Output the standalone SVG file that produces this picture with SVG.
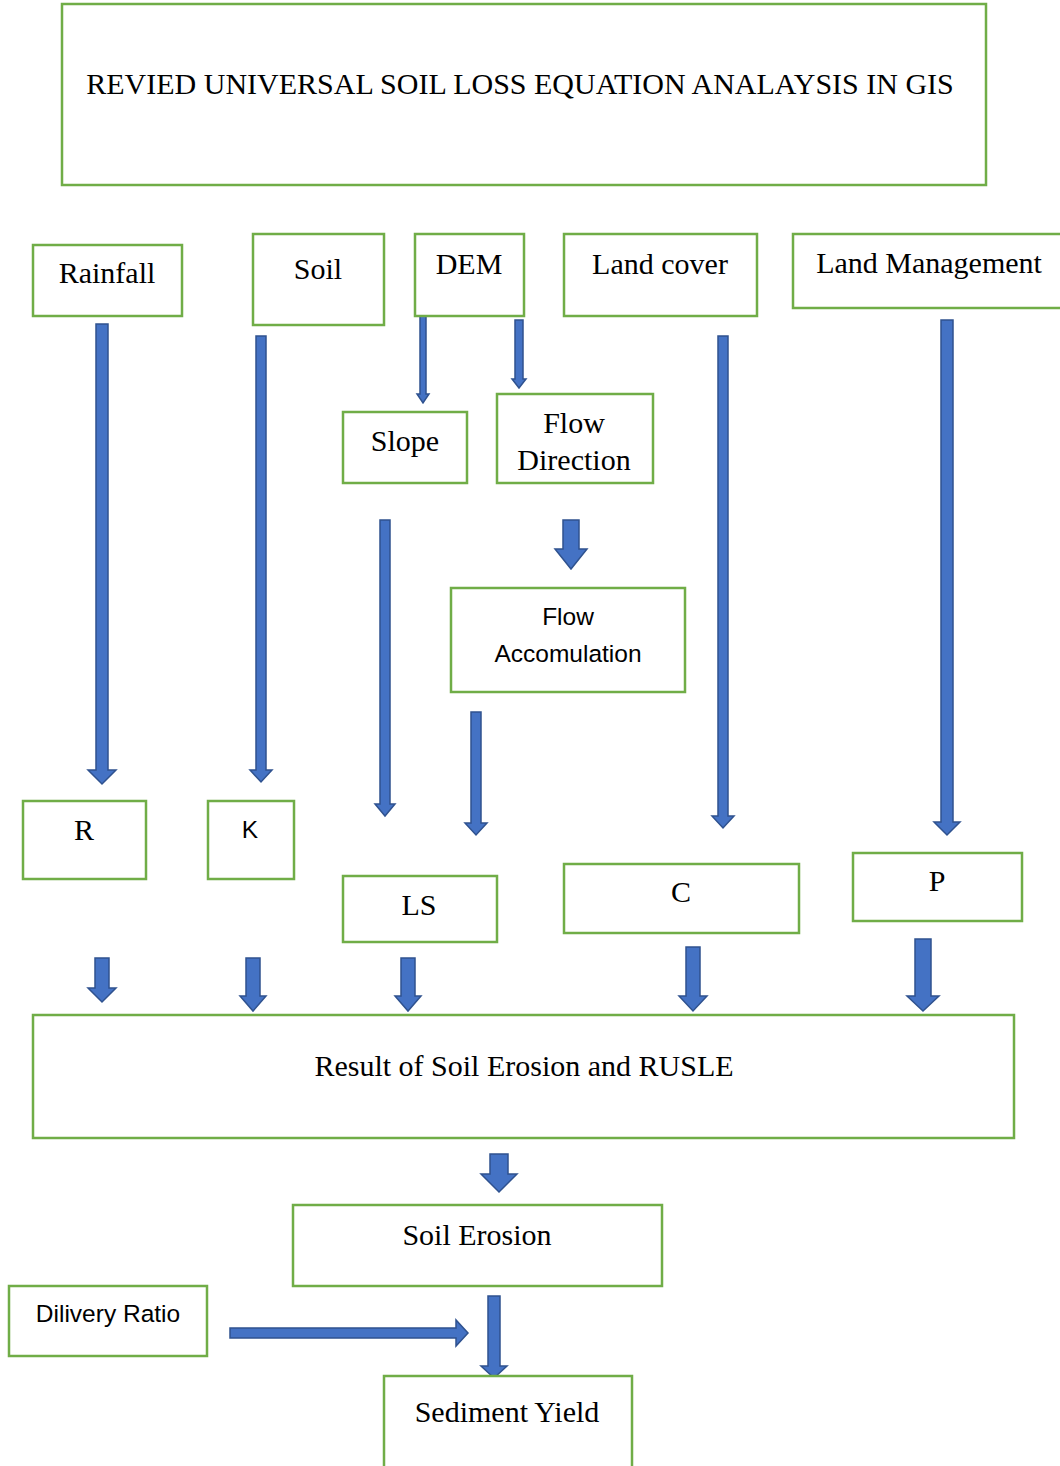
<svg xmlns="http://www.w3.org/2000/svg" width="1060" height="1466" viewBox="0 0 1060 1466">
<style>
.box{fill:#fff;stroke:#70AD47;stroke-width:2.5}
.t{font-family:"Liberation Serif","Times New Roman",serif;font-size:30px;fill:#000;text-anchor:middle}
.s{font-family:"Liberation Sans","Open Sans",Arial,sans-serif;font-size:24.5px;fill:#000;text-anchor:middle}
.a{fill:#4472C4;stroke:#2F528F;stroke-width:1.5;stroke-linejoin:miter}
</style>
<rect width="1060" height="1466" fill="#fff"/>
<g id="connectors">
<path class="a" d="M96,324 H108 V770 H116 L102,784 L88,770 H96 Z"/>
<path class="a" d="M256,336 H266 V770 H272 L261,782 L250,770 H256 Z"/>
<path class="a" d="M420,316 H426 V394 H429 L423,403 L417,394 H420 Z"/>
<path class="a" d="M515,320 H523 V379 H526 L519,388 L512,379 H515 Z"/>
<path class="a" d="M380,520 H390 V804 H395 L385,816 L375,804 H380 Z"/>
<path class="a" d="M563,520 H579 V549 H587 L571,569 L555,549 H563 Z"/>
<path class="a" d="M471,712 H481 V823 H487 L476,835 L465,823 H471 Z"/>
<path class="a" d="M718,336 H728 V816 H734 L723,828 L712,816 H718 Z"/>
<path class="a" d="M941,320 H953 V822 H960 L947,835 L934,822 H941 Z"/>
<path class="a" d="M95,958 H109 V988 H116 L102,1002 L88,988 H95 Z"/>
<path class="a" d="M246,958 H260 V996 H266 L253,1011 L240,996 H246 Z"/>
<path class="a" d="M401,958 H415 V996 H421 L408,1011 L395,996 H401 Z"/>
<path class="a" d="M686,947 H700 V996 H707 L693,1011 L679,996 H686 Z"/>
<path class="a" d="M915,939 H931 V996 H939 L923,1011 L907,996 H915 Z"/>
<path class="a" d="M490,1154 H508 V1174 H517 L499,1192 L481,1174 H490 Z"/>
<path class="a" d="M488,1296 H500 V1366 H507 L494,1378 L481,1366 H488 Z"/>
<path class="a" d="M230,1328 H456 V1320 L468,1333 L456,1346 V1338 H230 Z"/>
</g>
<g id="title"><rect class="box" x="62" y="4" width="924" height="181"/><text class="t" x="520" y="94">REVIED UNIVERSAL SOIL LOSS EQUATION ANALAYSIS IN GIS</text></g>
<g id="rainfall"><rect class="box" x="33" y="245" width="149" height="71"/><text class="t" x="107" y="283">Rainfall</text></g>
<g id="soil"><rect class="box" x="253" y="234" width="131" height="91"/><text class="t" x="318" y="279">Soil</text></g>
<g id="dem"><rect class="box" x="415" y="234" width="109" height="82"/><text class="t" x="469" y="274">DEM</text></g>
<g id="landcover"><rect class="box" x="564" y="234" width="193" height="82"/><text class="t" x="660" y="274">Land cover</text></g>
<g id="landmanagement"><rect class="box" x="793" y="234" width="280" height="74"/><text class="t" x="929" y="273">Land Management</text></g>
<g id="slope"><rect class="box" x="343" y="412" width="124" height="71"/><text class="t" x="405" y="451">Slope</text></g>
<g id="flowdirection"><rect class="box" x="497" y="394" width="156" height="89"/><text class="t" x="574" y="433">Flow</text><text class="t" x="574" y="470">Direction</text></g>
<g id="flowaccumulation"><rect class="box" x="451" y="588" width="234" height="104"/><text class="s" x="568" y="625">Flow</text><text class="s" x="568" y="662">Accomulation</text></g>
<g id="r"><rect class="box" x="23" y="801" width="123" height="78"/><text class="t" x="84" y="840">R</text></g>
<g id="k"><rect class="box" x="208" y="801" width="86" height="78"/><text class="s" x="250" y="838">K</text></g>
<g id="ls"><rect class="box" x="343" y="876" width="154" height="66"/><text class="t" x="419" y="915">LS</text></g>
<g id="c"><rect class="box" x="564" y="864" width="235" height="69"/><text class="t" x="681" y="902">C</text></g>
<g id="p"><rect class="box" x="853" y="853" width="169" height="68"/><text class="t" x="937" y="891">P</text></g>
<g id="result"><rect class="box" x="33" y="1015" width="981" height="123"/><text class="t" x="524" y="1076">Result of Soil Erosion and RUSLE</text></g>
<g id="soilerosion"><rect class="box" x="293" y="1205" width="369" height="81"/><text class="t" x="477" y="1245">Soil Erosion</text></g>
<g id="deliveryratio"><rect class="box" x="9" y="1286" width="198" height="70"/><text class="s" x="108" y="1322">Dilivery Ratio</text></g>
<g id="sedimentyield"><rect class="box" x="384" y="1376" width="248" height="120"/><text class="t" x="507" y="1422">Sediment Yield</text></g>
</svg>
